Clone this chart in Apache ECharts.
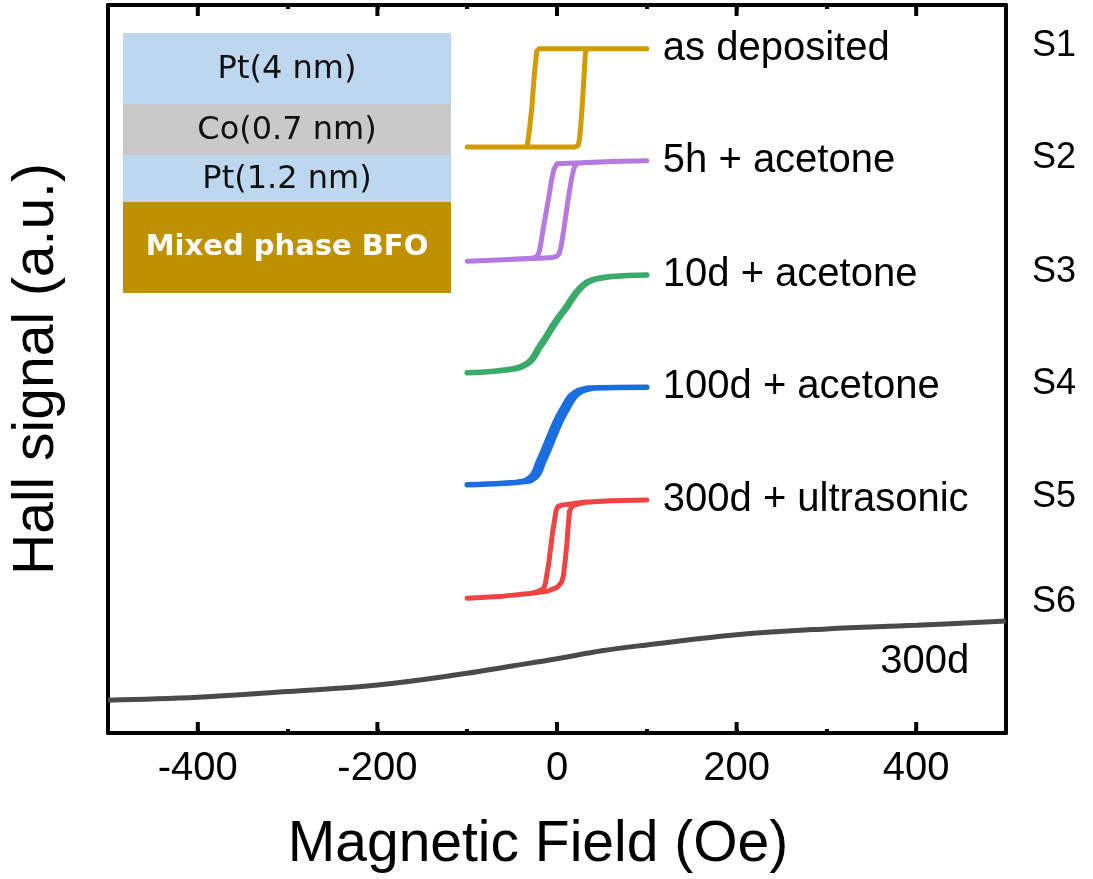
<!DOCTYPE html>
<html>
<head>
<meta charset="utf-8">
<title>Hall signal vs magnetic field</title>
<script src="https://cdn.jsdelivr.net/npm/echarts@6/dist/echarts.min.js"></script>
<style>
  html, body { margin: 0; padding: 0; background: #fff; }
  #chart { width: 1093px; height: 879px; }
</style>
</head>
<body>
<div id="chart"></div>
<script>
// Sample names and the treatment of each sample
const sampleNames = ['S1', 'S2', 'S3', 'S4', 'S5', 'S6'];
const treatments = ['as deposited', '5h + acetone', '10d + acetone', '100d + acetone', '300d + ultrasonic'];
const s6Note = '300d';

// Field axis range and ticks (Oe)
const fieldMin = -500, fieldMax = 500, minorStep = 100;
const majorTicks = [-400, -200, 0, 200, 400];

// Layer stack of the film, top to bottom
const stackLayers = ['Pt(4 nm)', 'Co(0.7 nm)', 'Pt(1.2 nm)', 'Mixed phase BFO'];

// Hysteresis loops [field (Oe), Hall signal (a.u.)]:
// sweep from +100 Oe down to -100 Oe, then back up to +100 Oe
const loopS1 = [
  [100, 9.40], [60, 9.40], [0, 9.40], [-20, 9.40], [-22.5, 9.37], [-24, 9.20], [-25.5, 9.00], [-28, 8.60],
  [-31, 8.25], [-33, 8.08], [-35, 8.05], [-60, 8.05], [-100, 8.05],
  [-60, 8.05], [0, 8.05], [20, 8.05], [23.5, 8.07], [25, 8.15], [26.5, 8.35], [28, 8.60], [30, 9.00],
  [31.5, 9.33], [33, 9.40], [60, 9.40], [100, 9.40]
];
const loopS2 = [
  [100, 7.86], [60, 7.85], [20, 7.83], [0, 7.82], [-2, 7.80], [-3.5, 7.74], [-6, 7.60], [-10, 7.30],
  [-15, 6.95], [-19, 6.65], [-21, 6.57], [-24, 6.53], [-30, 6.52], [-60, 6.50], [-100, 6.48],
  [-60, 6.50], [-20, 6.52], [-5, 6.53], [0, 6.55], [2.5, 6.59], [4.5, 6.68], [8, 6.95], [12, 7.30],
  [16, 7.60], [18.5, 7.74], [20.5, 7.80], [24, 7.83], [60, 7.85], [100, 7.86]
];
const loopS3 = [
  [100, 6.29], [60, 6.27], [48, 6.25], [38, 6.22], [29, 6.16], [20, 6.04], [9, 5.84], [1, 5.71],
  [-6, 5.58], [-13, 5.44], [-21, 5.29], [-29, 5.13], [-36, 5.06], [-46, 5.01], [-70, 4.97], [-100, 4.95],
  [-70, 4.97], [-44, 5.01], [-34, 5.06], [-27, 5.13], [-19, 5.29], [-11, 5.44], [-4, 5.58],
  [3, 5.71], [11, 5.84], [22, 6.04], [31, 6.16], [40, 6.22], [50, 6.25], [62, 6.27], [100, 6.29]
];
const loopS4 = [
  [100, 4.75], [36, 4.74], [25, 4.71], [20, 4.68], [14, 4.62], [7, 4.48], [-1, 4.30],
  [-8, 4.10], [-15, 3.89], [-21, 3.72], [-26, 3.57], [-31, 3.50], [-37, 3.46], [-60, 3.43], [-100, 3.41],
  [-60, 3.43], [-31, 3.46], [-25, 3.50], [-20, 3.57], [-15, 3.72], [-9, 3.89], [-2, 4.10],
  [5, 4.30], [13, 4.48], [20, 4.62], [26, 4.68], [31, 4.71], [42, 4.74], [100, 4.75]
];
const loopS5 = [
  [100, 3.20], [60, 3.19], [30, 3.17], [5, 3.13], [1, 3.11], [-1, 3.06], [-3, 2.90],
  [-5, 2.75], [-7, 2.55], [-9, 2.35], [-11, 2.20], [-13, 2.05], [-15, 1.98], [-20, 1.95],
  [-28, 1.92], [-60, 1.88], [-100, 1.85],
  [-60, 1.88], [-28, 1.92], [-10, 1.95], [0, 2.00], [5, 2.07], [7, 2.15], [9, 2.35],
  [11, 2.60], [12.5, 2.85], [14, 3.05], [17, 3.12], [25, 3.15], [32, 3.17], [60, 3.19], [100, 3.20]
];
// S6: full-range sweep
const curveS6 = [
  [-500, 0.45], [-400, 0.49], [-300, 0.57], [-200, 0.66], [-100, 0.82], [-50, 0.92],
  [0, 1.02], [50, 1.13], [100, 1.21], [200, 1.35], [300, 1.43], [400, 1.48], [500, 1.54]
];

const loops = [loopS1, loopS2, loopS3, loopS4, loopS5];
const loopColors = ['#d29b00', '#b47ae0', '#3aaa68', '#1a6ee0', '#f04444'];
const loopSmooth = [false, false, 0.45, 0.4, false];
const loopWidth = [5, 5, 5.5, 5.5, 5];
const s6Color = '#4a4a4a';

const FONT = '"Liberation Sans", Arial, sans-serif';

const chart = echarts.init(document.getElementById('chart'), null, { renderer: 'canvas' });

const axisLineStyle = { color: '#000', width: 4 };
const tickLine = { color: '#000', width: 4 };

const series = loops.map((loop, i) => ({
  type: 'line',
  name: sampleNames[i],
  data: loop,
  showSymbol: false,
  symbol: 'none',
  smooth: loopSmooth[i],
  lineStyle: { color: loopColors[i], width: loopWidth[i], cap: 'round', join: 'round' },
  endLabel: {
    show: true, formatter: treatments[i], distance: 16,
    fontSize: 40, color: '#000', fontFamily: FONT
  },
  z: 3
}));
series.push({
  type: 'line',
  name: sampleNames[5],
  data: curveS6,
  showSymbol: false,
  symbol: 'none',
  smooth: 0.4,
  lineStyle: { color: s6Color, width: 5 },
  z: 3
});

// Layer stack sketch in the upper-left corner
const stackColors = ['#bdd7ee', '#c9c9c9', '#bdd7ee', '#bf9000'];
const stackBounds = [[33, 104], [104, 155], [155, 202], [202, 293]];
const stackGraphics = [];
stackLayers.forEach((txt, i) => {
  const [y0, y1] = stackBounds[i];
  stackGraphics.push({
    type: 'rect', left: 123, top: y0, z: 10,
    shape: { width: 328, height: y1 - y0 },
    style: { fill: stackColors[i] }
  });
  const last = i === stackLayers.length - 1;
  stackGraphics.push({
    type: 'text', z: 11,
    x: 287, y: (y0 + y1) / 2 + (last ? 0 : 1),
    style: {
      text: txt, align: 'center', verticalAlign: 'middle',
      fill: last ? '#ffffff' : '#111',
      font: (last ? 'bold 29px ' : '32px ') + '"DejaVu Sans", sans-serif'
    }
  });
});

// Field axes: short ticks every 100 Oe, labels on multiples of 200 Oe
function fieldAxis(position, withLabels) {
  return {
    type: 'value', min: fieldMin, max: fieldMax, interval: minorStep, position: position,
    axisLine: { show: true, onZero: false, lineStyle: axisLineStyle },
    axisTick: { show: true, inside: true, length: 4, lineStyle: tickLine },
    axisLabel: {
      show: withLabels, fontSize: 40, color: '#000', fontFamily: FONT, margin: 16,
      showMinLabel: false, showMaxLabel: false,
      formatter: v => (majorTicks.indexOf(v) >= 0 ? String(v) : '')
    },
    splitLine: { show: false }
  };
}

const bottomAxis = fieldAxis('bottom', true);
bottomAxis.name = 'Magnetic Field (Oe)';
bottomAxis.nameLocation = 'middle';
bottomAxis.nameGap = 84;
bottomAxis.nameTextStyle = { fontSize: 57, color: '#000', fontFamily: FONT, padding: [0, 38, 0, 0] };

chart.setOption({
  animation: false,
  backgroundColor: '#fff',
  grid: { left: 108, right: 87, top: 5, bottom: 146, outerBoundsMode: 'none' },
  xAxis: [bottomAxis, fieldAxis('top', false)],
  yAxis: [
    {
      type: 'value', min: 0, max: 10, position: 'left',
      axisLine: { show: true, onZero: false, lineStyle: axisLineStyle },
      axisTick: { show: false }, axisLabel: { show: false }, splitLine: { show: false },
      name: 'Hall signal (a.u.)', nameLocation: 'middle', nameGap: 42,
      nameTextStyle: { fontSize: 57, color: '#000', fontFamily: FONT }
    },
    {
      type: 'value', min: 0, max: 10, position: 'right',
      axisLine: { show: true, onZero: false, lineStyle: axisLineStyle },
      axisTick: { show: false }, axisLabel: { show: false }, splitLine: { show: false }
    }
  ],
  series: series,
  graphic: stackGraphics
});

// Long ticks at the labelled field values, on the bottom and top edges of the frame
const yBottom = chart.convertToPixel({ yAxisIndex: 0 }, 0);
const yTop = chart.convertToPixel({ yAxisIndex: 0 }, 10);
const tickMarks = [];
majorTicks.forEach(v => {
  const x = chart.convertToPixel({ xAxisIndex: 0 }, v);
  tickMarks.push({ type: 'line', z: 12, shape: { x1: x, y1: yBottom, x2: x, y2: yBottom - 11 },
                   style: { stroke: '#000', lineWidth: 4 } });
  tickMarks.push({ type: 'line', z: 12, shape: { x1: x, y1: yTop, x2: x, y2: yTop + 11 },
                   style: { stroke: '#000', lineWidth: 4 } });
});

// Sample names to the right of the frame, level with each curve's upper plateau
const xRight = chart.convertToPixel({ xAxisIndex: 0 }, fieldMax);
const levels = loops.map(l => Math.max(...l.map(p => p[1])));
levels.push(curveS6[curveS6.length - 1][1] + 0.22);
const sideLabels = sampleNames.map((nm, i) => ({
  type: 'text', z: 11,
  x: xRight + 26,
  y: chart.convertToPixel({ yAxisIndex: 0 }, levels[i]) - 3,
  style: { text: nm, align: 'left', verticalAlign: 'middle', fill: '#000', font: '36px ' + FONT }
}));
// Note under the S6 curve
const s6NotePos = chart.convertToPixel({ xAxisIndex: 0, yAxisIndex: 0 }, [360, 0.98]);
sideLabels.push({
  type: 'text', z: 11,
  x: s6NotePos[0], y: s6NotePos[1],
  style: { text: s6Note, align: 'left', verticalAlign: 'middle', fill: '#000', font: '40px ' + FONT }
});
chart.setOption({ graphic: stackGraphics.concat(tickMarks, sideLabels) });
</script>
</body>
</html>
